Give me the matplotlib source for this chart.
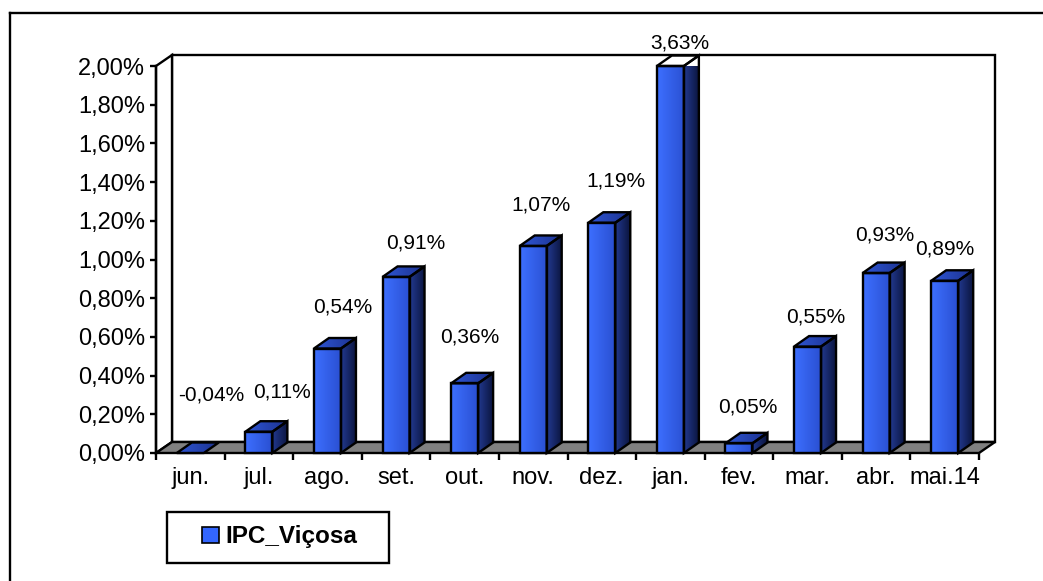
import matplotlib
matplotlib.use("Agg")
import matplotlib.pyplot as plt
import numpy as np
from matplotlib.patches import Polygon, Rectangle
from matplotlib.lines import Line2D
from matplotlib.colors import LinearSegmentedColormap

# data
months = ["jun.", "jul.", "ago.", "set.", "out.", "nov.", "dez.", "jan.", "fev.", "mar.", "abr.", "mai.14"]
ipc = [-0.04, 0.11, 0.54, 0.91, 0.36, 1.07, 1.19, 3.63, 0.05, 0.55, 0.93, 0.89]
yticks = np.arange(0, 2.001, 0.2)
series_name = "IPC_Viçosa"

# manual label nudges (pixels) relative to bar top, like the dragged excel labels
label_dx = [21, 23, 15, 20, 5, 8, 14, 9, 9, 8, 9, 0]
label_dy = [58, 40, 42, 34, 46, 41, 42, 23, 36, 30, 38, 32]

W, H, DPI = 1043, 581, 100
plt.rcParams["font.family"] = ["Liberation Sans", "DejaVu Sans"]
fig = plt.figure(figsize=(W / DPI, H / DPI), dpi=DPI)
px = lambda x, y: (x / W, 1 - y / H)

# front plane of the 3d box, in pixels
x0, x1, y0, y1 = 156, 979, 453, 66
ax = fig.add_axes([x0 / W, 1 - y0 / H, (x1 - x0) / W, (y0 - y1) / H])
n = len(months)
lo, hi, top = -0.5, n - 0.5, 2.0
ax.set_xlim(lo, hi); ax.set_ylim(0, top)
ax.patch.set_alpha(0)
for s in ["top", "right", "bottom"]:
    ax.spines[s].set_visible(False)
ax.spines["left"].set_linewidth(1.7)
ax.spines["left"].set_zorder(5)

ux = ax.transData.transform((1, 0))[0] - ax.transData.transform((0, 0))[0]
uy = ax.transData.transform((0, 1))[1] - ax.transData.transform((0, 0))[1]
WDX, WDY = 16 / ux, 11 / uy          # wall depth
BDX, BDY = 15 / ux, 10.5 / uy        # bar depth
HW = 13.5 / ux                       # half bar width
LW = 1.7

def face(pts, fc, z, ec="black"):
    p = Polygon(pts, closed=True, fc=fc, ec=ec, lw=LW, clip_on=False, zorder=z, joinstyle="miter")
    ax.add_patch(p)
    return p

def shaded(pts, c0, c1, z):
    p = face(pts, "none", z + 0.1)
    xs = [q[0] for q in pts]; ys = [q[1] for q in pts]
    cm = LinearSegmentedColormap.from_list("g", [c0, c1])
    im = ax.imshow(np.linspace(0, 1, 64).reshape(1, -1), cmap=cm, aspect="auto",
                   extent=[min(xs), max(xs), min(ys), max(ys)], zorder=z, interpolation="bilinear")
    im.set_clip_box(None)
    im.set_clip_path(p)

# walls and floor
face([(lo + WDX, WDY), (lo + WDX, top + WDY), (hi + WDX, top + WDY), (hi + WDX, WDY)], "white", 1)
face([(lo, 0), (lo, top), (lo + WDX, top + WDY), (lo + WDX, WDY)], "white", 1.2)
face([(lo, 0), (hi, 0), (hi + WDX, WDY), (lo + WDX, WDY)], "#808080", 1.5)

for i, v in enumerate(ipc):
    h = min(max(v, 0), top)
    z = 2 + i * 0.5
    l, r = i - HW, i + HW
    if h > 0:
        shaded([(l, 0), (r, 0), (r, h), (l, h)], "#3d6fff", "#2a50d2", z)
        shaded([(r, 0), (r + BDX, BDY), (r + BDX, h + BDY), (r, h)], "#22398f", "#0b1540", z)
    shaded([(l, h), (r, h), (r + BDX, h + BDY), (l + BDX, h + BDY)], "#2f56d4", "#1c3290", z)
    ax.annotate(f"{v:.2f}".replace(".", ",") + "%", xy=(i, h),
                xytext=(label_dx[i] * 72 / DPI, label_dy[i] * 72 / DPI), textcoords="offset points",
                ha="center", va="center", fontsize=15, annotation_clip=False, zorder=10)

# axes ticks
ax.set_yticks(yticks)
ax.set_yticklabels([f"{t:.2f}".replace(".", ",") + "%" for t in yticks], fontsize=17)
ax.tick_params(axis="y", direction="out", length=4.5, width=LW, pad=3.5)
ax.set_xticks(np.arange(lo, hi + 0.01, 1))
ax.set_xticklabels([])
ax.tick_params(axis="x", which="major", direction="out", length=5, width=LW)
ax.set_xticks(np.arange(n), minor=True)
ax.set_xticklabels(months, minor=True, fontsize=17)
ax.tick_params(axis="x", which="minor", length=0, pad=10)

# legend box drawn the excel way
fig.add_artist(Rectangle(px(167, 563), 222 / W, 51 / H, transform=fig.transFigure,
                         fc="white", ec="black", lw=LW))
fig.add_artist(Rectangle(px(202, 543), 17 / W, 16 / H, transform=fig.transFigure,
                         fc="#3366ff", ec="black", lw=1.2))
fig.text(*px(225, 537), series_name, fontsize=17.5, fontweight="bold", ha="left", va="center")

# outer chart border (cropped at right and bottom)
fig.add_artist(Line2D([10 / W, 1], [1 - 13 / H] * 2, color="black", lw=LW, transform=fig.transFigure))
fig.add_artist(Line2D([10 / W] * 2, [0, 1 - 13 / H], color="black", lw=LW, transform=fig.transFigure))

fig.savefig("out.png", dpi=DPI)
